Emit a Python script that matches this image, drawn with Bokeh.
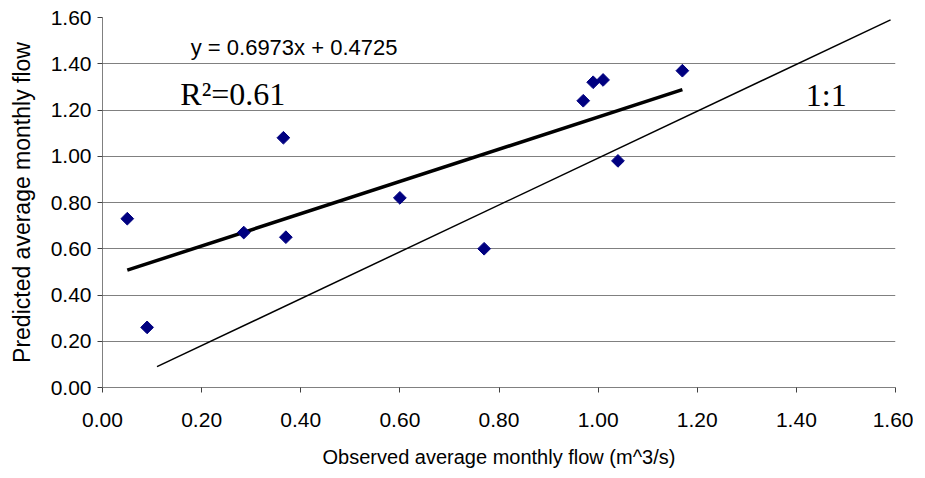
import numpy as np
from bokeh.plotting import figure
from bokeh.models import Range1d, FixedTicker, NumeralTickFormatter, Label
from bokeh.embed import file_html
from bokeh.resources import INLINE

# Observed vs predicted average monthly flow (m^3/s)
observed = [0.05, 0.09, 0.285, 0.37, 0.365, 0.60, 0.77, 0.97, 0.99, 1.01, 1.04, 1.17]
predicted = [0.73, 0.26, 0.67, 0.65, 1.08, 0.82, 0.60, 1.24, 1.32, 1.33, 0.98, 1.37]

# Trend line y = 0.6973x + 0.4725 drawn over the observed range
slope = 0.6973
intercept = 0.4725
trend_x = [min(observed), max(observed)]
trend_y = [slope * v + intercept for v in trend_x]

# 1:1 reference line as drawn
one_x = [0.11, 1.59]
one_y = [0.09, 1.59]

ticks = [0.0, 0.2, 0.4, 0.6, 0.8, 1.0, 1.2, 1.4, 1.6]

p = figure(width=913, height=470, output_backend="svg", toolbar_location=None,
           x_range=Range1d(0, 1.6), y_range=Range1d(0, 1.6),
           min_border_left=102, min_border_right=18, min_border_top=17, min_border_bottom=83)
p.outline_line_color = None
p.background_fill_color = "white"

p.xgrid.grid_line_color = None
p.ygrid.grid_line_color = "#808080"
p.ygrid.grid_line_width = 1

for ax in (p.xaxis[0], p.yaxis[0]):
    ax.ticker = FixedTicker(ticks=ticks)
    ax.formatter = NumeralTickFormatter(format="0.00")
    ax.axis_line_color = "#808080"
    ax.major_tick_line_color = "#404040"
    ax.major_tick_in = 0
    ax.major_tick_out = 5
    ax.minor_tick_line_color = None
    ax.major_label_text_font = "Liberation Sans"
    ax.major_label_text_font_size = "21px"
    ax.major_label_text_color = "black"
    ax.axis_label_text_font = "Liberation Sans"
    ax.axis_label_text_font_style = "normal"
    ax.axis_label_text_color = "black"

p.xaxis.axis_label = "Observed average monthly flow (m^3/s)"
p.yaxis.axis_label = "Predicted average monthly flow"
p.xaxis.axis_label_text_font_size = "20px"
p.yaxis.axis_label_text_font_size = "23px"
p.xaxis.major_label_standoff = 20
p.yaxis.major_label_standoff = 6
p.xaxis.axis_label_standoff = 16
p.yaxis.axis_label_standoff = 13

p.line(one_x, one_y, line_color="black", line_width=1.5)
p.line(trend_x, trend_y, line_color="black", line_width=3.5)
p.scatter(observed, predicted, marker="square", size=9, angle=np.pi / 4,
          fill_color="#000080", line_color="#000080")

p.add_layout(Label(x=0.178, y=1.47, text="y = 0.6973x + 0.4725",
                   text_font="Liberation Sans", text_font_size="22px",
                   text_baseline="middle", text_color="black"))
p.add_layout(Label(x=0.157, y=1.27, text="R\u00b2=0.61",
                   text_font="Liberation Serif", text_font_size="32px",
                   text_baseline="middle", text_color="black"))
p.add_layout(Label(x=1.419, y=1.265, text="1:1",
                   text_font="Liberation Serif", text_font_size="32px",
                   text_baseline="middle", text_color="black"))

open("out.html", "w").write(file_html(p, INLINE))
